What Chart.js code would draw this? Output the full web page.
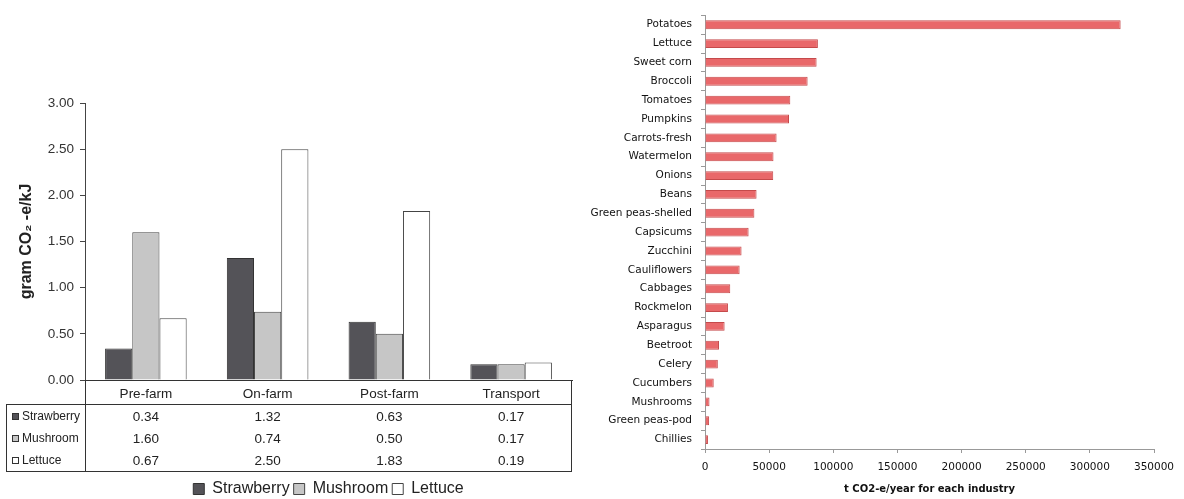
<!DOCTYPE html>
<html>
<head>
<meta charset="utf-8">
<script src="https://cdn.jsdelivr.net/npm/chart.js@4.4.1/dist/chart.umd.min.js"></script>
<style>
  body { margin: 0; background: #fff; }
  #wrap { position: relative; width: 1184px; height: 499px; }
  canvas { position: absolute; top: 0; }
  #stageChart { left: 0; }
  #cropChart { left: 590px; }
</style>
</head>
<body>
<div id="wrap">
  <canvas id="stageChart" width="590" height="499"></canvas>
  <canvas id="cropChart" width="594" height="499"></canvas>
</div>
<script>
// left chart: emissions per stage (g CO2-e/kJ)
const stages = ['Pre-farm', 'On-farm', 'Post-farm', 'Transport'];
const strawberry = [0.34, 1.32, 0.63, 0.17];
const mushroom = [1.60, 0.74, 0.50, 0.17];
const lettuce = [0.67, 2.50, 1.83, 0.19];
const stageTicks = [0, 0.5, 1, 1.5, 2, 2.5, 3];

// right chart: t CO2-e/year per industry
const crops = ['Potatoes', 'Lettuce', 'Sweet corn', 'Broccoli', 'Tomatoes', 'Pumpkins',
  'Carrots-fresh', 'Watermelon', 'Onions', 'Beans', 'Green peas-shelled', 'Capsicums',
  'Zucchini', 'Cauliflowers', 'Cabbages', 'Rockmelon', 'Asparagus', 'Beetroot', 'Celery',
  'Cucumbers', 'Mushrooms', 'Green peas-pod', 'Chillies'];
const cropEmissions = [324000, 88000, 87000, 80000, 66500, 65500, 55800, 53400, 53200,
  40200, 38500, 34000, 28500, 27000, 19700, 17900, 15300, 10900, 10000, 6800, 3500, 3200, 2300];
const cropTicks = [0, 50000, 100000, 150000, 200000, 250000, 300000, 350000];

const ARIAL = "'Liberation Sans', Arial, sans-serif";

// data table under the grouped bars
const dataTable = {
  id: 'dataTable',
  afterDraw(chart) {
    const { ctx, chartArea: a, scales: { x } } = chart;
    const lineY = a.bottom + 24, bot = a.bottom + 91, leftX = 6;
    const rowY = [37, 59, 81];
    ctx.save();
    ctx.strokeStyle = '#333';
    ctx.lineWidth = 1;
    ctx.beginPath();
    ctx.moveTo(leftX, lineY + 0.5); ctx.lineTo(a.right, lineY + 0.5);
    ctx.moveTo(leftX, bot + 0.5); ctx.lineTo(a.right, bot + 0.5);
    ctx.moveTo(leftX + 0.5, lineY); ctx.lineTo(leftX + 0.5, bot + 1);
    ctx.moveTo(a.left + 0.5, a.bottom); ctx.lineTo(a.left + 0.5, bot + 1);
    ctx.moveTo(a.right - 0.5, a.bottom); ctx.lineTo(a.right - 0.5, bot + 1);
    ctx.stroke();

    ctx.textBaseline = 'middle';
    chart.data.datasets.forEach((ds, r) => {
      const cy = a.bottom + rowY[r];
      ctx.fillStyle = ds.backgroundColor;
      ctx.fillRect(12, cy - 4, 7, 7);
      ctx.strokeStyle = '#333';
      ctx.strokeRect(12.5, cy - 3.5, 6, 6);
      ctx.fillStyle = '#222';
      ctx.font = '12px ' + ARIAL;
      ctx.textAlign = 'left';
      ctx.fillText(ds.label, 22, cy);
      ctx.font = '13.5px ' + ARIAL;
      ctx.textAlign = 'center';
      ds.data.forEach((v, i) => {
        ctx.fillText(v.toFixed(2), x.getPixelForValue(i), cy);
      });
    });
    ctx.restore();
  }
};

// centre the legend under the plot area and drop it to the baseline of the picture
const legendShift = {
  id: 'legendShift',
  afterLayout(chart) {
    const l = chart.legend, a = chart.chartArea;
    const dx = (a.left + a.right) / 2 - (l.left + l.right) / 2;
    l.left += dx; l.right += dx;
    l.top += 8; l.bottom += 8;
  }
};

new Chart(document.getElementById('stageChart').getContext('2d'), {
  type: 'bar',
  data: {
    labels: stages,
    datasets: [
      { label: 'Strawberry', data: strawberry, backgroundColor: '#545358', borderColor: '#333', borderWidth: 1 },
      { label: 'Mushroom', data: mushroom, backgroundColor: '#c6c6c6', borderColor: '#444', borderWidth: 1 },
      { label: 'Lettuce', data: lettuce, backgroundColor: '#ffffff', borderColor: '#444', borderWidth: 1 }
    ]
  },
  options: {
    responsive: false,
    animation: false,
    devicePixelRatio: 1,
    layout: { padding: { top: 103, left: 13, right: 18, bottom: 0 } },
    datasets: { bar: { categoryPercentage: 0.67, barPercentage: 1 } },
    plugins: {
      tooltip: { enabled: false },
      legend: {
        position: 'bottom',
        labels: {
          boxWidth: 11, boxHeight: 11, padding: 4, color: '#222',
          font: { family: ARIAL, size: 16 }
        }
      }
    },
    scales: {
      x: {
        grid: { display: false, drawTicks: false },
        border: { display: true, color: '#333', width: 1 },
        ticks: { color: '#222', padding: 6, font: { family: ARIAL, size: 13.5 } },
        afterFit(s) { s.height = 89; }
      },
      y: {
        min: 0, max: 3,
        afterBuildTicks(s) { s.ticks = stageTicks.map(v => ({ value: v })); },
        grid: { display: true, drawOnChartArea: false, tickLength: 5, color: '#444' },
        border: { display: true, color: '#444', width: 1 },
        ticks: {
          color: '#333', padding: 6, font: { family: ARIAL, size: 13.5 },
          callback: v => Number(v).toFixed(2)
        },
        title: {
          display: true, text: 'gram CO₂ -e/kJ', color: '#222',
          font: { family: ARIAL, size: 16, weight: 'bold' }, padding: { top: 4, bottom: 4 }
        },
        afterFit(s) { s.width = 72; }
      }
    }
  },
  plugins: [dataTable, legendShift]
});

const DEJAVU = "'DejaVu Sans', Verdana, sans-serif";

new Chart(document.getElementById('cropChart').getContext('2d'), {
  type: 'bar',
  data: {
    labels: crops,
    datasets: [{
      label: 't CO2-e/year',
      data: cropEmissions,
      backgroundColor: '#e9686a',
      borderColor: '#c54a4b',
      borderWidth: 1
    }]
  },
  options: {
    indexAxis: 'y',
    responsive: false,
    animation: false,
    devicePixelRatio: 1,
    layout: { padding: { top: 12, left: 0, right: 30, bottom: 0 } },
    datasets: { bar: { categoryPercentage: 1, barPercentage: 0.47 } },
    plugins: { legend: { display: false }, tooltip: { enabled: false } },
    scales: {
      y: {
        grid: { display: true, drawOnChartArea: false, tickLength: 4, color: '#999' },
        border: { display: true, color: '#999', width: 1 },
        ticks: { color: '#111', padding: 9, font: { family: DEJAVU, size: 10.5 } },
        afterFit(s) { s.width = 115; }
      },
      x: {
        min: 0, max: 350000,
        afterBuildTicks(s) { s.ticks = cropTicks.map(v => ({ value: v })); },
        grid: { display: true, drawOnChartArea: false, tickLength: 4, color: '#999' },
        border: { display: true, color: '#999', width: 1 },
        ticks: { color: '#111', padding: 8, maxRotation: 0, font: { family: DEJAVU, size: 10.5 },
          callback: v => String(v) },
        title: {
          display: true, text: 't CO2-e/year for each industry', color: '#111',
          font: { family: DEJAVU, size: 10, weight: 'bold' }, padding: { top: 4, bottom: 4 }
        },
        afterFit(s) { s.height = 50; }
      }
    }
  }
});
</script>
</body>
</html>
